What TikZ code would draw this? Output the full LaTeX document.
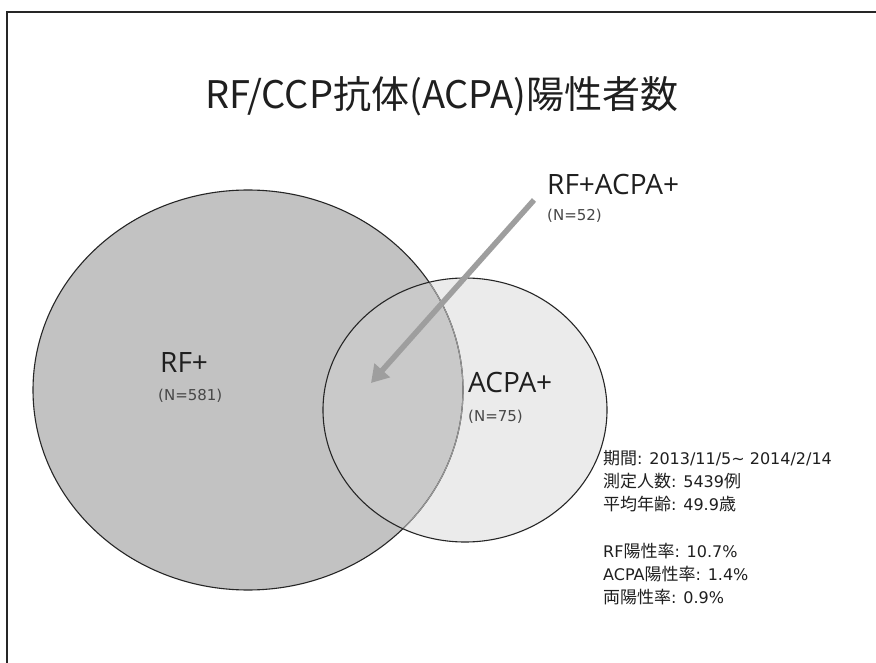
\documentclass[tikz,border=0pt]{standalone}
\usepackage{fontspec}
\setmainfont{Noto Sans CJK JP}
\newfontfamily\jpfont{Noto Sans CJK JP}
\newfontfamily\labelfont{Open Sans}
\newfontfamily\wideLatin{DejaVu Sans}
\usetikzlibrary{arrows.meta}
\tikzset{
  lbl/.style={inner sep=0pt, anchor=base west, text=black!88},
  bigtxt/.style={lbl, font=\labelfont\fontsize{28}{30}\selectfont},
  smalltxt/.style={lbl, font=\wideLatin\fontsize{15}{17}\selectfont, text=black!72},
  infotxt/.style={lbl, font=\wideLatin\fontsize{16}{18}\selectfont},
  outline/.style={draw=black!85, line width=1.1pt},
  pointer/.style={draw=black!38, line width=5.5pt, -{Triangle[width=20pt,length=17pt]}}
}
\newcommand{\jp}[1]{{\jpfont\fontsize{17}{19}\selectfont #1}}
\begin{document}
\begin{tikzpicture}[x=1pt,y=-1pt]
\useasboundingbox (0,0) rectangle (876,663);
\clip (0,0) rectangle (876,663);
\fill[white] (0,0) rectangle (876,663);
% frame
\draw[line width=2.2pt, black!85] (7,12) rectangle (920,720);
% circles
\fill[black!24] (248,390) ellipse [x radius=215pt, y radius=200pt];
\fill[black!8] (465,410) ellipse [x radius=142pt, y radius=132pt];
\begin{scope}
  \clip (465,410) ellipse [x radius=142pt, y radius=132pt];
  \fill[black!21] (248,390) ellipse [x radius=215pt, y radius=200pt];
\end{scope}
\draw[outline] (248,390) ellipse [x radius=215pt, y radius=200pt];
\begin{scope}
  \clip (465,410) ellipse [x radius=142pt, y radius=132pt];
  \draw[draw=black!40, line width=1.1pt] (248,390) ellipse [x radius=215pt, y radius=200pt];
\end{scope}
\draw[outline] (465,410) ellipse [x radius=142pt, y radius=132pt];
% title
\node[inner sep=0pt, anchor=base, font=\fontsize{38}{40}\selectfont, text=black!88] (title) at (442,109) {RF/CCP抗体(ACPA)陽性者数};
% labels
\node[bigtxt] (both) at (547,195) {RF+ACPA+};
\node[smalltxt] (bothn) at (547,221) {(N=52)};
\node[bigtxt] (rf) at (160,372) {RF+};
\node[smalltxt] (rfn) at (158,400) {(N=581)};
\node[bigtxt] (acpa) at (468,392) {ACPA+};
\node[smalltxt] (acpan) at (468,421) {(N=75)};
% info
\node[infotxt] (info1) at (603,464) {\jp{期間}: 2013/11/5\char"007E{} 2014/2/14};
\node[infotxt] (info2) at (603,487) {\jp{測定人数}: 5439\jp{例}};
\node[infotxt] (info3) at (603,510) {\jp{平均年齢}: 49.9\jp{歳}};
\node[infotxt] (info4) at (603,557) {RF\jp{陽性率}: 10.7\%};
\node[infotxt] (info5) at (603,580) {ACPA\jp{陽性率}: 1.4\%};
\node[infotxt] (info6) at (603,603) {\jp{両陽性率}: 0.9\%};
% arrow
\coordinate (arrowstart) at (534,200);
\coordinate (overlap) at (371,383);
\draw[pointer] (arrowstart) -- (overlap);
\end{tikzpicture}
\end{document}
